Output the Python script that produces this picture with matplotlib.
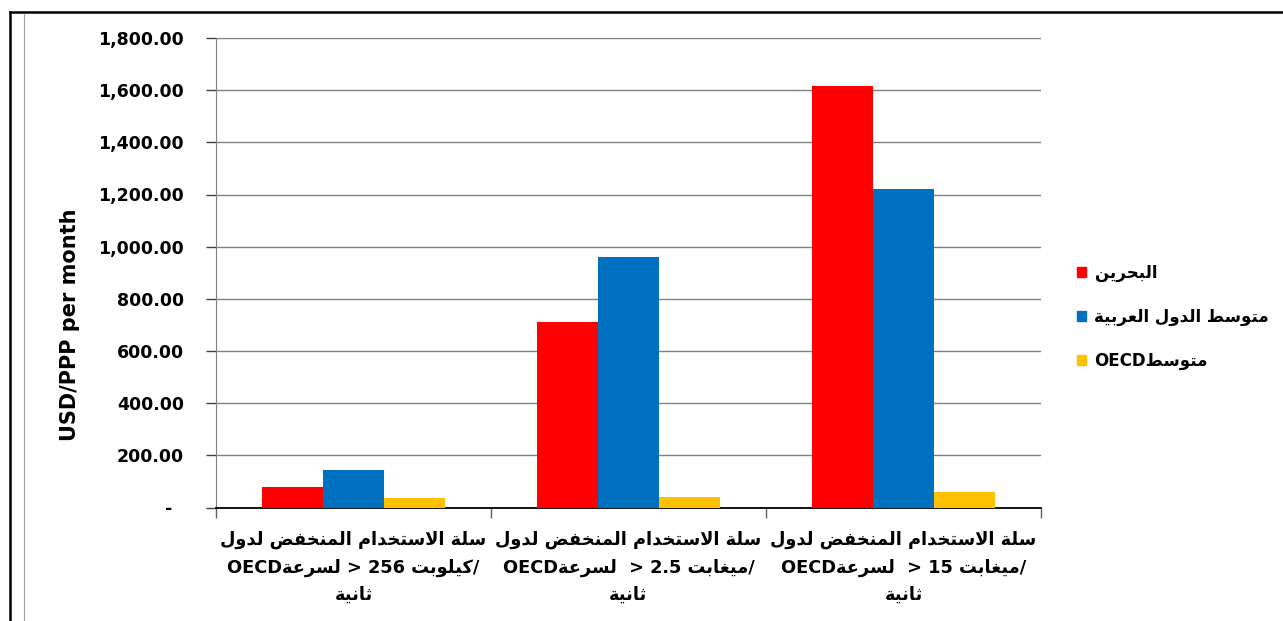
import matplotlib
matplotlib.use("Agg")
import matplotlib.pyplot as plt
from matplotlib.patches import Patch
from matplotlib.lines import Line2D
import numpy as np

# Datos (USD/PPP por mes)
linea1 = "سلة الاستخدام المنخفض لدول"
velocidades = ["256", "2.5", "15"]
unidades = ["كيلوبت", "ميغابت", "ميغابت"]
linea3 = "ثانية"
series = ["البحرين", "متوسط الدول العربية", "متوسط OECD"]
bahrein = [79, 711, 1615]
arabes = [142, 959, 1220]
oecd = [36, 40, 59]
colores = ["#FF0000", "#0070C0", "#FFC000"]
yticks = [0, 200, 400, 600, 800, 1000, 1200, 1400, 1600, 1800]

# Formas contextuales del arabe (aislada, final, inicial, media)
FORMAS = {
    'ا': (0xFE8D, 2), 'ب': (0xFE8F, 4), 'ة': (0xFE93, 2), 'ت': (0xFE95, 4),
    'ث': (0xFE99, 4), 'ح': (0xFEA1, 4), 'خ': (0xFEA5, 4), 'د': (0xFEA9, 2),
    'ر': (0xFEAD, 2), 'س': (0xFEB1, 4), 'ض': (0xFEBD, 4), 'ط': (0xFEC1, 4),
    'ع': (0xFEC9, 4), 'غ': (0xFECD, 4), 'ف': (0xFED1, 4), 'ك': (0xFED9, 4),
    'ل': (0xFEDD, 4), 'م': (0xFEE1, 4), 'ن': (0xFEE5, 4), 'و': (0xFEED, 2),
    'ي': (0xFEF1, 4),
}


def ar(texto):
    # da forma a las letras y las pone en orden visual
    res = []
    i = 0
    n = len(texto)
    while i < n:
        c = texto[i]
        if c not in FORMAS:
            res.append(c)
            i += 1
            continue
        prev = i > 0 and texto[i - 1] in FORMAS and FORMAS[texto[i - 1]][1] == 4
        if c == 'ل' and i + 1 < n and texto[i + 1] == 'ا':
            res.append('\uFEFC' if prev else '\uFEFB')
            i += 2
            continue
        base, nf = FORMAS[c]
        sig = nf == 4 and i + 1 < n and texto[i + 1] in FORMAS
        if prev and sig:
            cp = base + 3
        elif prev:
            cp = base + 1
        elif sig:
            cp = base + 2
        else:
            cp = base
        res.append(chr(cp))
        i += 1
    return "".join(reversed(res))


def etiqueta_serie(s):
    if "OECD" in s:
        return "OECD" + ar(s.replace("OECD", "").strip())
    return ar(s)


etiquetas = []
for k, (v, u) in enumerate(zip(velocidades, unidades)):
    sep = " > " if k == 0 else "  > "
    l2 = "OECD" + ar("لسرعة") + sep + v + " " + ar(u) + "/"
    etiquetas.append(ar(linea1) + "\n" + l2 + "\n" + ar(linea3))

W, H = 1283, 621
fig = plt.figure(figsize=(W / 100, H / 100), dpi=100)
ax = fig.add_axes([216 / W, 1 - 507.5 / H, (1041 - 216) / W, (507.5 - 38) / H])

x = np.arange(len(velocidades))
w = 1 / 4.5
for j, (vals, col) in enumerate(zip([bahrein, arabes, oecd], colores)):
    ax.bar(x + (j - 1) * w, vals, w, color=col, zorder=3)

ax.set_xlim(-0.5, 2.5)
ax.set_ylim(0, 1800)
ax.set_yticks(yticks)
ax.set_yticklabels([f"{t:,.2f}" if t else "-  " for t in yticks],
                   fontsize=12.5, fontweight="bold")
ax.grid(axis="y", color="#808080", lw=1, zorder=0)
ax.tick_params(axis="y", length=7, width=1, color="#404040", pad=16)

ax.set_xticks(x)
ax.set_xticklabels(etiquetas, fontsize=12.8, fontweight="bold", linespacing=1.65)
ax.set_xticks([-0.5, 0.5, 1.5, 2.5], minor=True)
ax.tick_params(axis="x", which="major", length=0, pad=17)
ax.tick_params(axis="x", which="minor", length=7.5, width=1, color="#606060")

for s in ["top", "right"]:
    ax.spines[s].set_visible(False)
ax.spines["left"].set_color("#808080")
ax.spines["bottom"].set_color("black")
ax.spines["bottom"].set_linewidth(1.3)

fig.text(70 / W, 1 - 325 / H, "USD/PPP per month", rotation=90,
         ha="center", va="center", fontsize=15, fontweight="bold")

handles = [Patch(color=c) for c in colores]
fig.legend(handles, [etiqueta_serie(s) for s in series],
           loc="center left", bbox_to_anchor=(1062 / W, 1 - 317 / H),
           frameon=False, handlelength=0.55, handleheight=0.55,
           handletextpad=0.5, labelspacing=1.55,
           prop={"size": 12, "weight": "bold"})

# marco
fig.add_artist(Line2D([10 / W, 1], [1 - 12 / H] * 2, color="black", lw=1.8,
                      transform=fig.transFigure))
fig.add_artist(Line2D([10 / W] * 2, [0, 1 - 12 / H], color="black", lw=1.8,
                      transform=fig.transFigure))
fig.add_artist(Line2D([24 / W] * 2, [0, 1 - 13.5 / H], color="#A0A0A0", lw=0.8,
                      transform=fig.transFigure))

plt.savefig("out.png", dpi=100)
